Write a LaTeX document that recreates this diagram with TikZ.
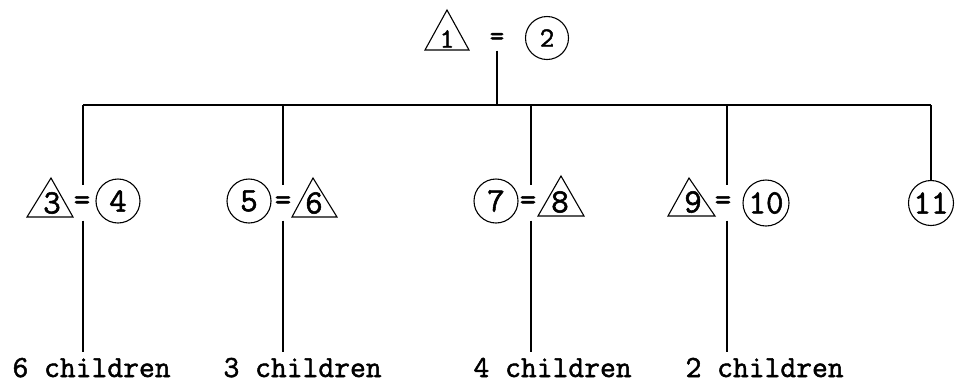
\documentclass[tikz,border=0pt]{standalone}
\usepackage{fontspec}
\newfontfamily\twfont{Latin Modern Mono}[FakeBold=1.6]
\begin{document}
\begin{tikzpicture}[x=1pt,y=-1pt, line width=1.1pt,
  lbl/.style={font=\fontsize{34}{36}\twfont, inner sep=0pt},
  toplbl/.style={font=\fontsize{28}{30}\twfont, inner sep=0pt},
  circ/.style={draw, circle, minimum size=44pt, inner sep=0pt},
  eqs/.style={font=\fontsize{32}{34}\twfont, inner sep=0pt, minimum height=34pt},
  kids/.style={font=\fontsize{30.7}{34}\twfont, inner sep=0pt, anchor=base west}]
\useasboundingbox (0,0) rectangle (956,384);

% top couple
\draw (425,50) -- (447,10) -- (469,50) -- cycle;
\node[toplbl] (n1) at (447,39) {1};
\node[toplbl, minimum height=22pt] (e1) at (497,39) {=};
\node[circ, toplbl, minimum size=43pt] (c2) at (547,38) {2};

% horizontal bar
\coordinate (h1) at (83,105);
\coordinate (h2) at (283,105);
\coordinate (h3) at (531,105);
\coordinate (h4) at (727,105);
\coordinate (h5) at (931,105);
\draw (e1.south) -- (e1.south |- h1);
\draw (h1) -- (h5);

% row 2
\draw (27,217) -- (51,178) -- (73,217) -- cycle;
\node[lbl] (n3) at (52,203) {3};
\node[eqs] (e3) at (82,203) {=};
\node[circ, lbl] (c4) at (118,201) {4};

\node[circ, lbl] (c5) at (249,201) {5};
\node[eqs] (e5) at (283,203) {=};
\draw (292,217) -- (313,178) -- (337,217) -- cycle;
\node[lbl] (n6) at (314,203) {6};

\node[circ, lbl] (c7) at (496,201) {7};
\node[eqs] (e7) at (528,203) {=};
\draw (538,216) -- (561,176) -- (584,216) -- cycle;
\node[lbl] (n8) at (560,202) {8};

\draw (668,216) -- (689,178) -- (715,216) -- cycle;
\node[lbl] (n9) at (693,202) {9};
\node[eqs] (e9) at (723,203) {=};
\node[circ, lbl, minimum size=46pt] (c10) at (766,203) {10};

\node[circ, lbl, minimum size=45pt] (c11) at (931,203) {11};

% bottom labels
\node[kids] (k1) at (12,377) {6 children};
\node[kids] (k2) at (223,377) {3 children};
\node[kids] (k3) at (473,377) {4 children};
\node[kids] (k4) at (685,377) {2 children};
\coordinate (d1) at (83,352);
\coordinate (d2) at (283,352);
\coordinate (d3) at (531,352);
\coordinate (d4) at (727,352);

% drops
\draw (h1) -- (e3.north -| h1);
\draw (e3.south -| h1) -- (d1);
\draw (h2) -- (e5.north -| h2);
\draw (e5.south -| h2) -- (d2);
\draw (h3) -- (e7.north -| h3);
\draw (e7.south -| h3) -- (d3);
\draw (h4) -- (e9.north -| h4);
\draw (e9.south -| h4) -- (d4);
\draw (h5) -- (c11.north);
\end{tikzpicture}
\end{document}
